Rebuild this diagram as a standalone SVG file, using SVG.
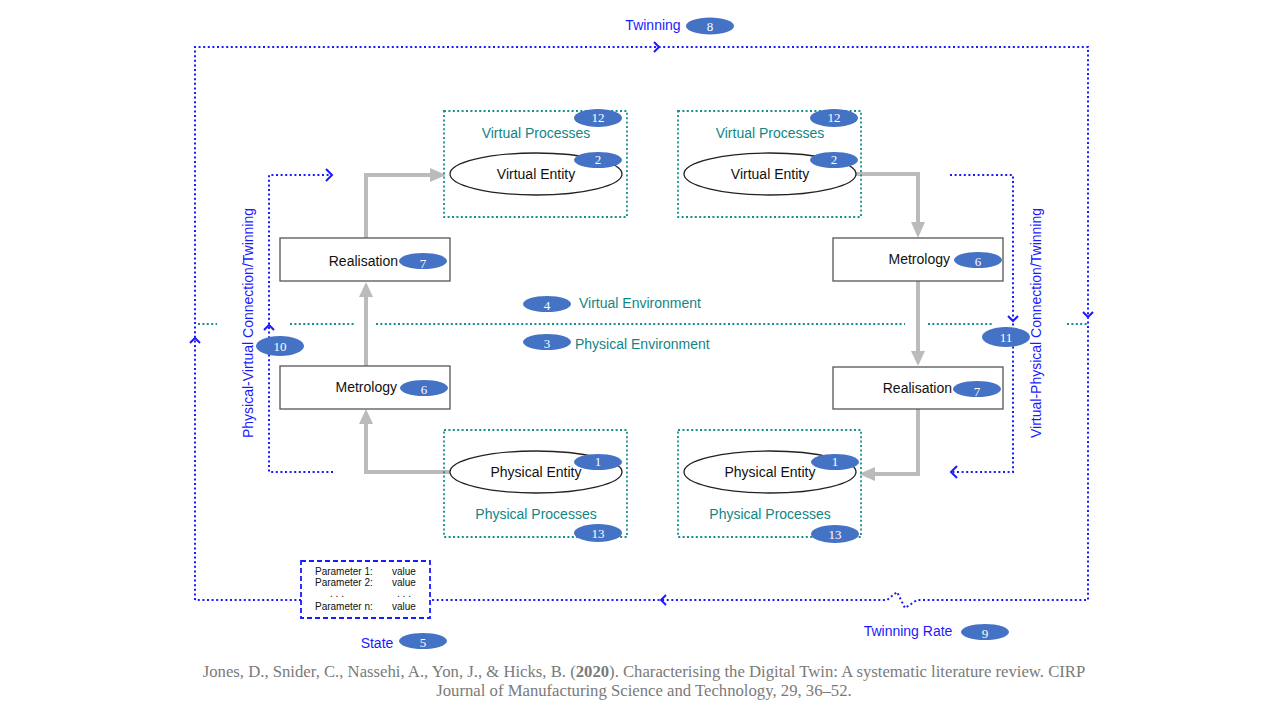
<svg xmlns="http://www.w3.org/2000/svg" width="1280" height="720" viewBox="0 0 1280 720">
<style>
.blue{fill:none;stroke:#1a1aff;stroke-width:2;stroke-dasharray:2 2.6}
.teal{fill:none;stroke:#178f8f;stroke-width:1.8;stroke-dasharray:2 2.4}
.tealtxt{fill:#128585;font-family:"Liberation Sans",Arial,sans-serif;font-size:14px}
.bluetxt{fill:#1a1aff;font-family:"Liberation Sans",Arial,sans-serif;font-size:14px}
.lbl{fill:#111;font-family:"Liberation Sans",Arial,sans-serif;font-size:14px}
.box{fill:#fff;stroke:#555;stroke-width:1.3}
.ell{fill:#fff;stroke:#222;stroke-width:1.3}
.badge{fill:#4472c4}
.num{fill:#fff;font-family:"Liberation Serif",serif;font-size:13px;text-anchor:middle}
.gray{fill:none;stroke:#bbbbbb;stroke-width:4}
.grayhead{fill:#bbbbbb}
.chev{fill:none;stroke:#1a1aff;stroke-width:2}
.param{fill:#111;font-family:"Liberation Sans",Arial,sans-serif;font-size:10px}
.cite{fill:#7a7a7a;font-family:"Liberation Serif",serif;font-size:16.7px;text-anchor:middle}
</style>
<rect width="1280" height="720" fill="#fff"/>

<g id="connectors">
  <!-- outer twinning loop -->
  <path class="blue" d="M195,600 L195,47 L1088,47 L1088,600 L917,600 L905,608 L897,592 L887,600 L430,600"/>
  <path class="blue" d="M301,600 L195,600"/>
  <path class="chev" d="M654,42 L659,47 L654,52"/>
  <path class="chev" d="M190,343 L195,338 L200,343"/>
  <path class="chev" d="M1083,312 L1088,317 L1093,312"/>
  <path class="chev" d="M666,595 L661,600 L666,605"/>
  <!-- environment separator -->
  <path class="teal" d="M198,324 L217,324 M290,324 L355,324 M376,324 L905,324 M928,324 L992,324 M1067,324 L1088,324"/>
  <!-- inner physical-virtual loop -->
  <path class="blue" d="M333,472 L269,472 L269,175 L331,175"/>
  <path class="chev" d="M326,169 L332,175 L326,181"/>
  <path class="chev" d="M264,330 L269,325 L274,330"/>
  <!-- inner virtual-physical loop -->
  <path class="blue" d="M950,175 L1013,175 L1013,472 L953,472"/>
  <path class="chev" d="M957,466 L951,472 L957,478"/>
  <path class="chev" d="M1008,316 L1013,321 L1018,316"/>
  <!-- gray flow arrows left -->
  <path class="gray" d="M450,472 L366,472 L366,422"/>
  <path class="grayhead" d="M359,424 L366,409 L373,424 Z"/>
  <path class="gray" d="M366,366 L366,295"/>
  <path class="grayhead" d="M359,297 L366,282 L373,297 Z"/>
  <path class="gray" d="M366,238 L366,175 L432,175"/>
  <path class="grayhead" d="M430,168 L446,175 L430,182 Z"/>
  <!-- gray flow arrows right -->
  <path class="gray" d="M855,174 L918,174 L918,224"/>
  <path class="grayhead" d="M911,222 L918,238 L925,222 Z"/>
  <path class="gray" d="M918,281 L918,353"/>
  <path class="grayhead" d="M911,351 L918,366 L925,351 Z"/>
  <path class="gray" d="M918,409 L918,474 L873,474"/>
  <path class="grayhead" d="M875,467 L859,474 L875,481 Z"/>
</g>

<g id="twinning">
  <text class="bluetxt" x="653" y="30" text-anchor="middle">Twinning</text>
  <ellipse class="badge" cx="710" cy="26" rx="24" ry="8.5"/>
  <text class="num" x="710" y="31">8</text>
</g>

<g id="virtual-processes-left">
  <rect class="teal" x="444" y="111" width="183" height="106"/>
  <ellipse class="badge" cx="598" cy="118" rx="24" ry="9"/>
  <text class="num" x="598" y="122" font-size="11">12</text>
  <text class="tealtxt" x="536" y="138" text-anchor="middle">Virtual Processes</text>
</g>
<g id="virtual-entity-left">
  <ellipse class="ell" cx="536" cy="174" rx="86" ry="21"/>
  <ellipse class="badge" cx="598" cy="160" rx="24" ry="8"/>
  <text class="num" x="598" y="164" font-size="11">2</text>
  <text class="lbl" x="536" y="179" text-anchor="middle">Virtual Entity</text>
</g>

<g id="virtual-processes-right">
  <rect class="teal" x="678" y="111" width="183" height="106"/>
  <ellipse class="badge" cx="834" cy="118" rx="24" ry="9"/>
  <text class="num" x="834" y="122" font-size="11">12</text>
  <text class="tealtxt" x="770" y="138" text-anchor="middle">Virtual Processes</text>
</g>
<g id="virtual-entity-right">
  <ellipse class="ell" cx="770" cy="174" rx="86" ry="21"/>
  <ellipse class="badge" cx="834" cy="160" rx="24" ry="8"/>
  <text class="num" x="834" y="164" font-size="11">2</text>
  <text class="lbl" x="770" y="179" text-anchor="middle">Virtual Entity</text>
</g>

<g id="physical-processes-left">
  <rect class="teal" x="444" y="430" width="183" height="107"/>
  <text class="tealtxt" x="536" y="519" text-anchor="middle">Physical Processes</text>
  <ellipse class="badge" cx="598" cy="533" rx="24" ry="9"/>
  <text class="num" x="598" y="538">13</text>
</g>
<g id="physical-entity-left">
  <ellipse class="ell" cx="536" cy="472" rx="86" ry="21"/>
  <ellipse class="badge" cx="598" cy="462" rx="24" ry="8"/>
  <text class="num" x="598" y="466" font-size="11">1</text>
  <text class="lbl" x="536" y="477" text-anchor="middle">Physical Entity</text>
</g>

<g id="physical-processes-right">
  <rect class="teal" x="678" y="430" width="183" height="107"/>
  <text class="tealtxt" x="770" y="519" text-anchor="middle">Physical Processes</text>
  <ellipse class="badge" cx="835" cy="534" rx="24" ry="9"/>
  <text class="num" x="835" y="539">13</text>
</g>
<g id="physical-entity-right">
  <ellipse class="ell" cx="770" cy="472" rx="86" ry="21"/>
  <ellipse class="badge" cx="835" cy="462" rx="24" ry="8"/>
  <text class="num" x="835" y="466" font-size="11">1</text>
  <text class="lbl" x="770" y="477" text-anchor="middle">Physical Entity</text>
</g>

<g id="realisation-left">
  <rect class="box" x="280" y="238" width="170" height="43"/>
  <text class="lbl" x="398" y="266" text-anchor="end">Realisation</text>
  <ellipse class="badge" cx="423" cy="261" rx="24" ry="8"/>
  <text class="num" x="423" y="268" font-size="15">7</text>
</g>
<g id="metrology-left">
  <rect class="box" x="280" y="366" width="170" height="43"/>
  <text class="lbl" x="397" y="392" text-anchor="end">Metrology</text>
  <ellipse class="badge" cx="424" cy="388" rx="24" ry="8"/>
  <text class="num" x="424" y="394" font-size="15">6</text>
</g>
<g id="metrology-right">
  <rect class="box" x="833" y="238" width="170" height="43"/>
  <text class="lbl" x="950" y="264" text-anchor="end">Metrology</text>
  <ellipse class="badge" cx="978" cy="260" rx="24" ry="8"/>
  <text class="num" x="978" y="266" font-size="15">6</text>
</g>
<g id="realisation-right">
  <rect class="box" x="833" y="367" width="170" height="42"/>
  <text class="lbl" x="952" y="393" text-anchor="end">Realisation</text>
  <ellipse class="badge" cx="977" cy="389" rx="24" ry="8"/>
  <text class="num" x="977" y="396" font-size="15">7</text>
</g>

<g id="virtual-environment">
  <ellipse class="badge" cx="547" cy="304" rx="24" ry="8"/>
  <text class="num" x="547" y="310">4</text>
  <text class="tealtxt" x="579" y="308">Virtual Environment</text>
</g>
<g id="physical-environment">
  <ellipse class="badge" cx="547" cy="342" rx="24" ry="8"/>
  <text class="num" x="547" y="348">3</text>
  <text class="tealtxt" x="575" y="349">Physical Environment</text>
</g>

<g id="pv-connection">
  <text class="bluetxt" transform="translate(253,323) rotate(-90)" text-anchor="middle">Physical-Virtual Connection/Twinning</text>
  <ellipse class="badge" cx="280" cy="346" rx="24" ry="10"/>
  <text class="num" x="280" y="351">10</text>
</g>
<g id="vp-connection">
  <text class="bluetxt" transform="translate(1041,323) rotate(-90)" text-anchor="middle">Virtual-Physical Connection/Twinning</text>
  <ellipse class="badge" cx="1006" cy="337" rx="24" ry="10"/>
  <text class="num" x="1006" y="342">11</text>
</g>

<g id="state">
  <rect x="301" y="561" width="129" height="57" fill="#fff" stroke="#1a1aff" stroke-width="1.8" stroke-dasharray="5 3"/>
  <text class="param" x="315" y="575">Parameter 1:</text>
  <text class="param" x="392" y="575">value</text>
  <text class="param" x="315" y="586">Parameter 2:</text>
  <text class="param" x="392" y="586">value</text>
  <text class="param" x="337" y="597" text-anchor="middle">. . .</text>
  <text class="param" x="404" y="597" text-anchor="middle">. . .</text>
  <text class="param" x="315" y="610">Parameter n:</text>
  <text class="param" x="392" y="610">value</text>
  <text class="bluetxt" x="377" y="648" text-anchor="middle">State</text>
  <ellipse class="badge" cx="423" cy="641" rx="24" ry="8"/>
  <text class="num" x="423" y="647" font-size="15">5</text>
</g>

<g id="twinning-rate">
  <text class="bluetxt" x="908" y="636" text-anchor="middle">Twinning Rate</text>
  <ellipse class="badge" cx="985" cy="632" rx="24" ry="8"/>
  <text class="num" x="985" y="638" font-size="15">9</text>
</g>

<g id="citation">
  <text class="cite" x="644" y="677">Jones, D., Snider, C., Nassehi, A., Yon, J., &amp; Hicks, B. (<tspan font-weight="bold">2020</tspan>). Characterising the Digital Twin: A systematic literature review. CIRP</text>
  <text class="cite" x="644" y="696">Journal of Manufacturing Science and Technology, 29, 36–52.</text>
</g>
</svg>
